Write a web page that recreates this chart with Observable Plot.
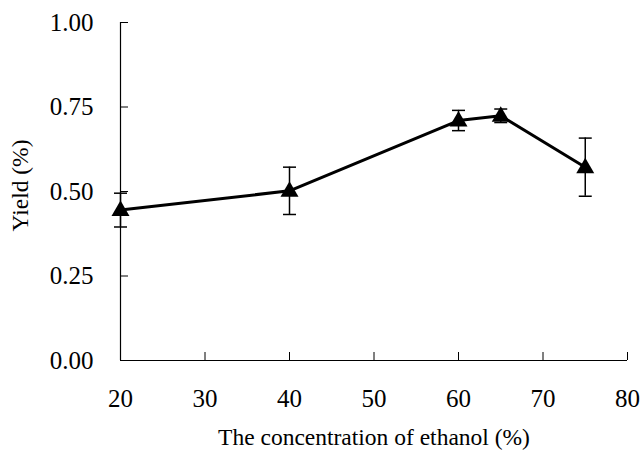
<!DOCTYPE html>
<html>
<head>
<meta charset="utf-8">
<script src="https://cdn.jsdelivr.net/npm/d3@7"></script>
<script src="https://cdn.jsdelivr.net/npm/@observablehq/plot@0.6"></script>
<style>
  html, body { margin: 0; padding: 0; background: #fff; }
  svg { display: block; }
  svg text { font-family: 'Liberation Serif', 'Times New Roman', serif !important; font-variant: normal !important; }
</style>
</head>
<body>
<div id="chart"></div>
<script>
const ethanol = [20, 40, 60, 65, 75];
const yieldMean = [0.445, 0.502, 0.710, 0.724, 0.572];
const yieldErr = [0.050, 0.070, 0.030, 0.020, 0.086];
const xTicks = [20, 30, 40, 50, 60, 70, 80];
const yTicks = [0, 0.25, 0.5, 0.75, 1.0];

const data = ethanol.map((x, i) => ({x, y: yieldMean[i], lo: yieldMean[i] - yieldErr[i], hi: yieldMean[i] + yieldErr[i]}));

const capSymbol = { draw(ctx) { ctx.moveTo(-6.5, 0); ctx.lineTo(6.5, 0); } };
const triSymbol = { draw(ctx) { ctx.moveTo(0, -9.5); ctx.lineTo(9, 6); ctx.lineTo(-9, 6); ctx.closePath(); } };

const font = "'Liberation Serif', 'Times New Roman', serif";

const chart = Plot.plot({
  width: 643,
  height: 454,
  marginLeft: 120,
  marginRight: 16,
  marginTop: 22,
  marginBottom: 94,
  style: { fontFamily: font, fontSize: "25px", color: "#000", background: "#fff" },
  x: { domain: [20, 80] },
  y: { domain: [0, 1] },
  marks: [
    Plot.ruleX([20], { y1: 0, y2: 1, stroke: "#000", strokeWidth: 1.2 }),
    Plot.ruleY([0], { x1: 20, x2: 80, stroke: "#000", strokeWidth: 1.2 }),
    Plot.axisY({ ticks: yTicks, tickSize: 0, tickPadding: 27, tickFormat: d3.format(".2f"), label: null, fontSize: 25, fontFamily: font }),
    Plot.axisY({ ticks: yTicks, tickSize: -8, text: null, label: null, stroke: "#000" }),
    Plot.axisX({ ticks: xTicks, tickSize: 0, tickPadding: 29, tickFormat: d => String(d), label: null, fontSize: 25, fontFamily: font }),
    Plot.axisX({ ticks: xTicks, tickSize: -8, text: null, label: null, stroke: "#000" }),
    Plot.text(["Yield (%)"], { frameAnchor: "left", textAnchor: "middle", dx: -100, dy: -6, rotate: -90, fontSize: 23.5, fill: "#000", fontFamily: font }),
    Plot.text(["The concentration of ethanol (%)"], { frameAnchor: "bottom", textAnchor: "middle", dy: 84, fontSize: 23.5, fill: "#000", fontFamily: font }),
    Plot.ruleX(data, { x: "x", y1: "lo", y2: "hi", stroke: "#000", strokeWidth: 1.5 }),
    Plot.dot(data, { x: "x", y: "lo", symbol: capSymbol, stroke: "#000", strokeWidth: 1.5, fill: "none" }),
    Plot.dot(data, { x: "x", y: "hi", symbol: capSymbol, stroke: "#000", strokeWidth: 1.5, fill: "none" }),
    Plot.line(data, { x: "x", y: "y", stroke: "#000", strokeWidth: 3 }),
    Plot.dot(data, { x: "x", y: "y", symbol: triSymbol, fill: "#000", stroke: "none" })
  ]
});
document.getElementById("chart").appendChild(chart);
</script>
</body>
</html>
